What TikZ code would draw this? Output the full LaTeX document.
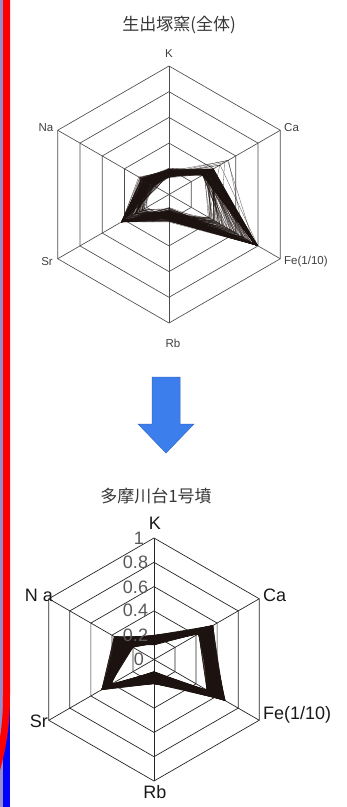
\documentclass[tikz,border=0pt]{standalone}
\usepackage{fontspec}
\setmainfont{Liberation Sans}
\newfontfamily\cjkfont{Noto Sans CJK JP}
\definecolor{arrowblue}{RGB}{60,126,236}
\definecolor{lavgray}{RGB}{150,140,200}
\definecolor{inkdark}{RGB}{28,18,16}
\tikzset{
  gridA/.style={draw=black!70, line width=0.65pt},
  gridB/.style={draw=black!85, line width=0.7pt},
  dataA/.style={draw=inkdark, line width=0.3pt, opacity=0.75, line join=round},
  dataB/.style={draw=inkdark, line width=0.6pt, opacity=0.85, line join=round},
  labA/.style={font=\fontsize{11.5}{12}\selectfont, text=black!75, inner sep=0pt},
  labB/.style={font=\fontsize{18}{19}\selectfont, text=black!90, inner sep=0pt},
  tickB/.style={font=\fontsize{18}{19}\selectfont, text=black!65, inner sep=0pt},
  titlestyle/.style={font=\cjkfont\fontsize{17}{18}\selectfont, text=black!78, inner sep=0pt}
}
\begin{document}
\begin{tikzpicture}[x=1pt,y=-1pt]
\useasboundingbox (0,0) rectangle (347,807);
\fill[white] (0,0) rectangle (347,807);
% left border
\fill[lavgray] (0,0) rectangle (2.6,807);
\draw[blue, line width=7pt] (6.5,-5) -- (6.5,812);
\draw[red, line width=7pt] (6.5,-5) -- (6.5,695) .. controls (6.5,722) and (4,742) .. (-4,772);

% ---------- chart 1 ----------
\node[titlestyle] (t1) at (179,25) {生出塚窯(全体)};
\begin{scope}[shift={(169,194.5)}, x=1pt, y=1pt]
  \def\R{128.5}
  \foreach \r in {0.2,0.4,0.6,0.8,1}{
    \draw[gridA] (90:\r*\R) -- (30:\r*\R) -- (-30:\r*\R) -- (-90:\r*\R) -- (-150:\r*\R) -- (150:\r*\R) -- cycle;
  }
  \draw[gridA] (90:\R) -- (-90:\R);
  \draw[gridA] (30:\R) -- (-150:\R);
  \draw[gridA] (150:\R) -- (-30:\R);
  \pgfmathsetseed{4711}
  \foreach \i in {1,...,180}{
    \pgfmathsetmacro\s{rnd}
    \pgfmathsetmacro\vk{0.13+0.08*(0.5*\s+0.5*rnd)}
    \pgfmathsetmacro\vc{rnd<0.035 ? 0.45+0.14*rnd : 0.3+0.1*rnd}
    \pgfmathsetmacro\vf{rnd<0.7 ? 0.76+0.04*rnd : 0.35+0.4*rnd}
    \pgfmathsetmacro\vr{0.1+0.12*(0.5*\s+0.5*rnd)}
    \pgfmathsetmacro\vs{rnd<0.7 ? 0.4+0.03*rnd : 0.22+0.18*rnd}
    \pgfmathsetmacro\vn{0.1+0.18*(0.5*\s+0.5*rnd)}
    \draw[dataA] (90:\vk*\R) -- (30:\vc*\R) -- (-30:\vf*\R) -- (-90:\vr*\R) -- (-150:\vs*\R) -- (150:\vn*\R) -- cycle;
  }
\end{scope}
\node[labA] (k1) at (169,54) {K};
\node[labA, anchor=east] (na1) at (53.5,128) {Na};
\node[labA, anchor=west] (ca1) at (284,128) {Ca};
\node[labA, anchor=east] (sr1) at (53,262) {Sr};
\node[labA, anchor=west] (fe1) at (284,262) {Fe(1/10)};
\node[labA] (rb1) at (173,343) {Rb};

% ---------- arrow ----------
\filldraw[fill=arrowblue, draw=arrowblue!85!black, line width=0.5pt]
  (152,377) -- (180,377) -- (180,424) -- (194,424) -- (166,453) -- (138,424) -- (152,424) -- cycle;

% ---------- chart 2 ----------
\node[titlestyle] (t2) at (156,496) {多摩川台1号墳};
\begin{scope}[shift={(154,659.5)}, x=1pt, y=1pt]
  \def\R{121.5}
  \foreach \r in {0.2,0.4,0.6,0.8,1}{
    \draw[gridB] (90:\r*\R) -- (30:\r*\R) -- (-30:\r*\R) -- (-90:\r*\R) -- (-150:\r*\R) -- (150:\r*\R) -- cycle;
  }
  \draw[gridB] (90:\R) -- (-90:\R);
  \draw[gridB] (30:\R) -- (-150:\R);
  \draw[gridB] (150:\R) -- (-30:\R);
  \pgfmathsetseed{2024}
  \foreach \i in {1,...,190}{
    \pgfmathsetmacro\vk{0.12+0.08*rnd}
    \pgfmathsetmacro\vc{0.42+0.14*rnd}
    \pgfmathsetmacro\vf{0.5+0.18*rnd}
    \pgfmathsetmacro\vr{0.1+0.1*rnd}
    \pgfmathsetmacro\vs{0.4+0.1*rnd}
    \pgfmathsetmacro\vn{0.2+0.18*rnd}
    \draw[dataB] (90:\vk*\R) -- (30:\vc*\R) -- (-30:\vf*\R) -- (-90:\vr*\R) -- (-150:\vs*\R) -- (150:\vn*\R) -- cycle;
  }
\end{scope}
\node[tickB] (tk1) at (139,538) {1};
\node[tickB] (tk08) at (135.5,562) {0.8};
\node[tickB] (tk06) at (135.5,587) {0.6};
\node[tickB] (tk04) at (135.5,610) {0.4};
\node[tickB] (tk02) at (135.5,635) {0.2};
\node[tickB] (tk0) at (139,659) {0};
\node[labB] (k2) at (155,523) {K};
\node[labB, anchor=east] (na2) at (53,595) {N a};
\node[labB, anchor=west] (ca2) at (263,595) {Ca};
\node[labB, anchor=east] (sr2) at (48,721) {Sr};
\node[labB, anchor=west] (fe2) at (263,715) {Fe(1/10)};
\node[labB] (rb2) at (155,792) {Rb};
\end{tikzpicture}
\end{document}
